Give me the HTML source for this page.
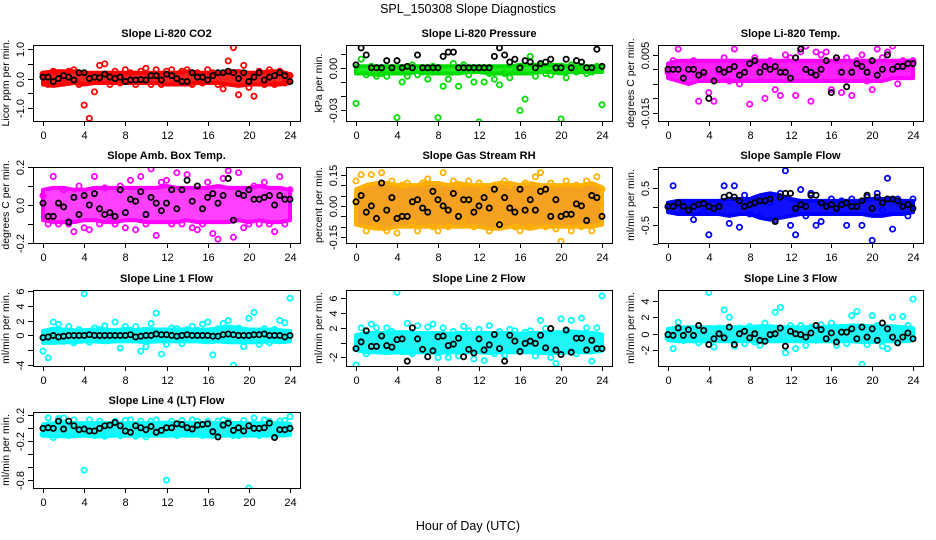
<!DOCTYPE html>
<html><head><meta charset="utf-8">
<style>
html,body{margin:0;padding:0;background:#fff;}
svg{display:block;font-family:"Liberation Sans",Arial,sans-serif;}
</style></head>
<body>
<svg id="chart" width="936" height="540" viewBox="0 0 936 540" xmlns="http://www.w3.org/2000/svg">
<text x="468" y="13" text-anchor="middle" font-size="12.5">SPL_150308  Slope Diagnostics</text>
<text x="468" y="530" text-anchor="middle" font-size="12.5">Hour of Day (UTC)</text>
</svg>
<script>
const hourTicks = [0,4,8,12,16,20,24];
const titles = ["Slope Li-820 CO2","Slope Li-820 Pressure","Slope Li-820 Temp.","Slope Amb. Box Temp.","Slope Gas Stream RH","Slope Sample Flow","Slope Line 1 Flow","Slope Line 2 Flow","Slope Line 3 Flow","Slope Line 4 (LT) Flow"];
const yLabels = ["Licor ppm per min.","kPa per min.","degrees C per min.","degrees C per min.","percent per min.","ml/min per min.","ml/min per min.","ml/min per min.","ml/min per min.","ml/min per min."];
const yRanges = [[-1.44,1.14],[-0.0374,0.016],[-0.0178,0.0084],[-0.2,0.2],[-0.178,0.187],[-0.97,1.05],[-4.1,6.1],[-3.15,7.1],[-3.9,5.3],[-0.92,0.24]];
const yTicks = [[-1,-0.5,0,0.5,1],[-0.03,-0.02,-0.01,0,0.01],[-0.015,-0.01,-0.005,0,0.005],[-0.2,-0.1,0,0.1,0.2],[-0.15,-0.1,-0.05,0,0.05,0.1,0.15],[-1,-0.5,0,0.5,1],[-4,-2,0,2,4,6],[-2,0,2,4,6],[-2,0,2,4],[-0.8,-0.6,-0.4,-0.2,0,0.2]];
const yTickLabels = [["-1.0","","0.0","","1.0"],["-0.03","","","0.00",""],["-0.015","","","","0.005"],["-0.2","","0.0","","0.2"],["-0.15","","","0.00","","","0.15"],["","-0.5","","0.5",""],["-4","","0","2","4","6"],["-2","","2","4","6"],["-2","0","2","4"],["-0.8","","","-0.2","","0.2"]];
const colors = ["#ff0000","#00dd00","#ff00ff","#ff00ff","#ffb000","#0000ff","#00ffff","#00ffff","#00ffff","#00ffff"];
const bandColors = ["#ff2020","#22ee22","#ff20ff","#ff40ff","#f4a020","#1010ff","#20f4f4","#20f4f4","#20f4f4","#20f4f4"];

const co2Pts=[0.15,-0.2,0.25,0.2,-0.15,0.25,0.3,-0.2,-0.9,-1.35,-0.45,0.45,0.5,-0.2,0.25,-0.15,0.3,0.2,-0.2,0.25,0.35,-0.2,0.3,-0.2,0.25,0.3,-0.15,0.25,0.3,-0.2,0.2,-0.15,0.3,0.2,-0.2,-0.35,0.6,1.05,-0.55,0.45,-0.3,-0.6,0.25,-0.2,0.3,-0.2,0.25,-0.15,0.1];
const co2Lo=[-0.2,-0.25,-0.2,-0.15,-0.2,-0.15,-0.15,-0.15,-0.15,-0.15,-0.15,-0.15,-0.2,-0.2,-0.2,-0.15,-0.15,-0.15,-0.2,-0.25,-0.2,-0.2,-0.2,-0.2,-0.15];
const co2Hi=[0.2,0.25,0.25,0.25,0.2,0.2,0.2,0.2,0.2,0.2,0.2,0.2,0.2,0.2,0.25,0.2,0.2,0.2,0.25,0.25,0.2,0.2,0.25,0.25,0.15];
const co2Blk=[0.05,0.05,-0.1,0,0.1,0.05,-0.05,0.2,0.2,0,0.05,0.03,0.15,0.05,0,0.05,-0.1,-0.05,-0.05,-0.03,-0.05,0.1,0.1,-0.05,0.15,0.1,0,-0.1,-0.1,0.2,0.05,0.05,-0.05,0.1,0.2,0.2,0.25,0.2,0.0,0.2,-0.1,0.05,0.2,-0.05,0.05,0.1,0.2,0.1,-0.1];

const presPts=[-0.025,0.006,-0.005,0.001,-0.006,-0.004,-0.006,-0.003,-0.035,-0.01,-0.006,0.002,-0.005,-0.003,-0.008,0.001,-0.035,-0.013,-0.008,0.003,-0.013,0.002,-0.005,-0.01,-0.038,-0.01,-0.004,-0.008,-0.012,-0.004,-0.007,-0.003,-0.03,-0.022,0.008,-0.006,0.002,-0.004,-0.005,0.001,-0.036,-0.007,0.002,-0.003,0.001,-0.004,-0.003,0.001,-0.026];
const presLo=[-0.004,-0.004,-0.005,-0.004,-0.004,-0.004,-0.003,-0.004,-0.004,-0.004,-0.004,-0.003,-0.003,-0.004,-0.004,-0.004,-0.004,-0.004,-0.003,-0.003,-0.004,-0.003,-0.003,-0.003,-0.003];
const presHi=[0.001,0.001,0.001,0.001,0.001,0.001,0.001,0.001,0.001,0.001,0.001,0.001,0.001,0.001,0.001,0.001,0.002,0.002,0.002,0.002,0.002,0.001,0.001,0.001,0.001];
const presBlk=[0.002,0.014,0.009,0.0,0.0,0.0,0.005,0.0,0.005,0.0,0.001,0.0,0.009,0.0,0.0,0.0,0.0,0.008,0.011,0.011,0.0,0.0,0.0,0.0,0.0,0.0,0.0,0.008,0.014,0.009,0.004,0.006,0.0,0.005,0.004,0.0,0.003,0.004,0.006,0.0,0.0,0.006,0.0,0.005,0.004,0.0,0.0,0.013,0.001];

const ltPts=[-0.001,0.003,0.007,0.010,-0.020,0.003,-0.011,-0.002,-0.008,-0.011,-0.001,0.004,-0.004,0.007,-0.005,0.002,-0.012,0.004,0.002,-0.010,0.003,-0.007,-0.009,0.005,0.004,-0.009,0.006,0.008,-0.011,0.006,0.005,0.006,-0.007,0.003,-0.008,0.004,-0.009,0.003,0.005,-0.004,-0.007,0.007,0.004,0.006,0.008,-0.005,0.003,0.012,0.003];
const ltLo=[-0.003,-0.004,-0.005,-0.004,-0.004,-0.004,-0.004,-0.004,-0.004,-0.004,-0.004,-0.004,-0.004,-0.004,-0.004,-0.004,-0.004,-0.004,-0.004,-0.004,-0.004,-0.004,-0.003,-0.003,-0.003];
const ltHi=[0.002,0.003,0.003,0.003,0.003,0.003,0.003,0.003,0.003,0.003,0.003,0.003,0.003,0.003,0.003,0.003,0.003,0.003,0.003,0.003,0.003,0.003,0.003,0.003,0.003];
const ltBlk=[0.000,0.000,0.000,-0.003,0.000,0.000,-0.002,-0.001,-0.010,-0.004,0.000,-0.001,0.000,0.001,-0.002,-0.001,0.002,0.003,-0.001,0.001,0.000,0.001,-0.001,-0.001,-0.003,0.004,0.007,0.000,-0.001,-0.002,0.000,0.003,-0.008,0.004,-0.001,-0.006,-0.001,0.002,0.001,-0.001,0.003,-0.002,0.000,0.005,0.000,0.001,0.001,0.002,0.002];

const ambPts=[0.05,-0.1,0.15,-0.1,0.08,-0.1,-0.14,0.1,-0.12,-0.13,0.15,-0.1,0.09,-0.08,-0.1,0.1,-0.12,0.13,-0.13,0.15,-0.1,0.19,-0.16,0.12,0.13,-0.1,0.17,-0.1,0.16,-0.12,-0.13,-0.1,0.12,-0.15,-0.18,0.14,0.18,-0.17,0.17,-0.12,-0.1,0.1,-0.1,0.12,-0.1,-0.14,0.15,-0.1,0.08];
const ambLo=[-0.08,-0.09,-0.09,-0.09,-0.08,-0.08,-0.09,-0.09,-0.08,-0.08,-0.09,-0.09,-0.09,-0.09,-0.08,-0.09,-0.09,-0.09,-0.09,-0.08,-0.09,-0.08,-0.09,-0.09,-0.08];
const ambHi=[0.08,0.09,0.09,0.08,0.08,0.09,0.09,0.09,0.09,0.09,0.09,0.09,0.1,0.09,0.09,0.09,0.09,0.1,0.09,0.09,0.09,0.1,0.09,0.09,0.08];
const ambBlk=[0.01,-0.06,-0.06,0.01,-0.01,-0.09,0.04,-0.05,0.05,0.0,0.06,-0.02,-0.05,-0.04,-0.06,0.08,-0.04,0.03,0.02,0.07,-0.05,0.04,0.01,-0.03,0.01,0.08,-0.02,0.08,0.13,0.02,0.1,-0.02,0.04,0.06,0.01,0.05,0.14,-0.08,0.06,0.05,0.08,0.03,0.03,0.04,0.05,0.0,0.05,0.03,0.03];

const rhPts=[0.12,0.15,-0.12,0.15,-0.08,0.16,-0.12,0.12,-0.13,0.1,0.11,-0.08,-0.12,0.11,0.13,-0.1,-0.12,0.16,-0.1,0.12,0.1,-0.07,0.12,-0.1,0.11,0.08,-0.12,0.1,-0.08,0.12,0.1,-0.1,-0.12,0.11,-0.1,0.14,0.16,-0.1,0.11,-0.11,-0.17,0.12,-0.12,0.1,-0.1,0.12,-0.12,0.14,0.08];
const rhLo=[-0.09,-0.1,-0.11,-0.11,-0.1,-0.1,-0.1,-0.1,-0.1,-0.1,-0.1,-0.1,-0.1,-0.11,-0.11,-0.1,-0.1,-0.11,-0.1,-0.1,-0.1,-0.1,-0.1,-0.1,-0.09];
const rhHi=[0.08,0.1,0.11,0.11,0.1,0.1,0.1,0.11,0.11,0.1,0.11,0.1,0.1,0.1,0.11,0.11,0.1,0.11,0.1,0.1,0.1,0.1,0.1,0.11,0.09];
const rhBlk=[0.02,0.05,-0.03,0.0,-0.06,0.11,-0.02,0.04,-0.06,-0.05,-0.05,0.02,0.03,-0.01,-0.03,0.07,0.03,0.0,-0.02,0.06,-0.05,0.03,0.03,-0.03,0.0,0.04,-0.01,0.08,-0.09,0.04,-0.01,-0.03,0.08,-0.02,0.03,-0.02,0.07,0.08,-0.05,0.03,-0.05,-0.04,-0.04,0.01,0.0,-0.07,0.05,0.04,-0.05];

const sfPts=[0.0,0.55,0.05,-0.1,0.1,-0.35,0.1,-0.15,-0.75,-0.1,0.1,0.55,-0.45,0.55,-0.55,0.3,-0.2,0.1,-0.25,0.15,0.1,-0.35,0.35,0.95,-0.5,-0.75,0.45,-0.25,0.35,-0.5,-0.4,0.1,0.2,-0.15,0.15,-0.5,0.2,0.1,-0.5,0.25,-0.9,0.35,-0.1,0.75,-0.6,0.2,0.1,-0.25,0.2];
const sfLo=[-0.15,-0.2,-0.2,-0.2,-0.2,-0.2,-0.25,-0.2,-0.2,-0.3,-0.35,-0.3,-0.25,-0.2,-0.2,-0.2,-0.2,-0.2,-0.2,-0.2,-0.25,-0.25,-0.2,-0.2,-0.15];
const sfHi=[0.1,0.15,0.15,0.15,0.15,0.15,0.2,0.2,0.2,0.3,0.35,0.3,0.2,0.15,0.15,0.15,0.15,0.15,0.15,0.15,0.2,0.2,0.2,0.15,0.15];
const sfBlk=[0.0,0.0,0.1,0.0,-0.1,0.0,0.05,0.08,0.0,-0.05,0.0,0.25,0.3,0.25,0.15,0.0,0.05,0.1,0.15,0.15,0.2,-0.4,0.25,0.35,0.35,-0.05,0.05,0.0,0.3,0.3,0.1,0.0,0.05,-0.05,0.05,0.1,0.0,0.0,0.15,0.3,-0.05,0.25,0.1,0.2,0.2,0.15,0.0,0.05,-0.05];

const l1Pts=[-2.1,-3.0,1.8,1.5,-0.8,1.2,-1.0,0.8,5.6,-0.9,1.0,0.8,1.3,-0.6,1.8,-1.7,1.2,0.7,1.2,-2.1,-1.5,1.6,3.0,-2.5,-1.2,1.0,0.9,-1.1,0.8,1.2,0.7,1.5,1.8,-2.6,0.9,1.6,2.0,-4.0,1.0,-1.5,2.3,3.1,-1.2,0.9,-1.0,0.8,2.0,1.7,5.0];
const l1Lo=[-1.0,-1.0,-0.9,-0.9,-0.8,-0.8,-0.9,-0.8,-0.8,-0.8,-0.9,-0.8,-0.8,-0.8,-0.8,-0.8,-0.9,-0.8,-0.9,-0.9,-0.9,-0.9,-0.8,-0.9,-0.8];
const l1Hi=[0.6,0.9,0.8,0.7,0.7,0.8,0.8,0.7,0.9,0.7,0.9,0.8,0.8,0.8,0.8,0.7,0.8,0.9,1.2,1.0,0.8,0.8,0.8,0.7,0.6];
const l1Blk=[-0.3,-0.2,0.0,-0.2,-0.1,0.0,0.0,0.0,0.0,0.1,0.0,0.0,0.0,0.0,0.0,0.0,0.0,0.1,-0.2,-0.1,0.0,0.0,0.2,0.1,0.1,0.0,-0.1,0.0,0.1,0.0,0.0,0.0,0.0,-0.1,-0.1,0.1,0.2,0.1,0.0,0.0,0.0,0.1,0.1,0.2,0.0,0.0,0.0,-0.2,0.0];

const l2Pts=[-3.0,2.0,-1.5,2.5,2.0,-1.0,2.0,1.5,6.8,-1.2,2.6,-1.5,2.3,-1.0,2.1,2.5,-2.0,2.0,-2.0,1.5,-1.8,2.2,1.6,-2.2,1.8,-2.4,2.3,-1.5,1.5,-1.7,1.8,1.6,-1.0,1.4,1.6,-1.8,3.0,1.9,-2.0,-2.8,3.2,1.5,3.0,-1.5,3.3,2.0,-2.5,2.0,6.3];
const l2Lo=[-1.0,-1.3,-1.3,-1.4,-1.3,-1.4,-1.3,-1.3,-1.4,-1.3,-1.3,-1.3,-1.3,-1.4,-1.3,-1.3,-1.3,-1.3,-1.4,-1.4,-1.4,-1.3,-1.3,-1.3,-1.1];
const l2Hi=[1.0,1.3,1.3,1.3,1.4,1.4,1.3,1.3,1.3,1.2,1.3,1.3,1.3,1.3,1.3,1.3,1.2,1.3,1.3,1.4,1.4,1.5,1.4,1.3,1.1];
const l2Blk=[-0.8,0.1,1.6,-0.5,-0.5,0.9,-0.4,-0.6,0.4,0.5,-2.5,2.0,0.5,-0.9,-1.9,-1.1,0.8,0.9,-0.4,-0.2,0.6,-1.9,-0.9,-1.4,0.5,-1.0,-0.3,1.1,-0.8,-2.5,1.0,0.2,-1.2,-0.1,0.2,-0.1,1.0,-0.7,1.9,-1.0,-1.6,1.7,-1.3,0.6,0.6,-1.0,0.3,-0.8,-0.8];

const l3Pts=[-0.5,-1.8,1.4,-0.8,0.5,-0.6,-1.1,0.6,5.0,-1.6,0.7,2.9,2.0,-1.5,0.7,-1.2,0.9,-1.0,-1.4,1.3,-0.7,2.6,3.2,-2.3,1.0,-1.8,1.0,-1.4,0.8,-0.8,1.1,0.6,1.3,-1.4,0.8,-1.2,2.2,2.7,-3.7,-1.3,2.2,1.0,-1.5,-1.8,2.0,-1.0,2.1,1.0,4.2];
const l3Lo=[-0.8,-0.9,-0.9,-0.9,-0.9,-0.9,-0.9,-0.9,-0.9,-0.9,-0.9,-0.9,-0.9,-0.9,-0.9,-0.9,-0.9,-0.9,-0.9,-1.0,-1.0,-0.9,-0.9,-0.9,-0.8];
const l3Hi=[0.6,0.8,0.8,0.8,0.8,0.8,0.8,0.8,0.8,0.9,0.9,0.8,0.8,0.8,0.8,0.8,0.9,0.9,1.0,1.0,0.9,0.9,0.9,0.8,0.7];
const l3Blk=[-0.1,-0.2,0.7,-0.2,0.5,-0.2,1.0,0.4,-1.3,-0.6,0.0,-0.5,0.8,-1.3,0.0,0.3,-0.5,0.0,-0.8,-0.9,-0.1,0.0,0.7,-1.5,0.3,0.0,-0.1,-0.4,0.1,1.0,0.5,-0.6,0.1,-1.0,0.2,0.2,0.6,-0.6,0.8,-0.4,0.6,-0.8,1.3,0.6,-0.4,-1.1,-0.4,0.1,-0.6];

const l4Pts=[-0.1,0.15,-0.15,0.14,0.15,-0.12,0.12,0.0,-0.65,0.12,-0.12,0.1,-0.13,0.0,0.1,-0.12,0.11,0.12,-0.13,0.1,-0.14,0.1,0.12,-0.1,-0.8,0.1,-0.12,0.11,-0.1,0.12,0.1,-0.12,0.1,-0.12,0.1,0.12,0.1,-0.12,-0.12,0.11,-0.92,0.15,-0.12,0.12,0.1,-0.12,0.1,0.11,0.17];
const l4Lo=[-0.12,-0.13,-0.13,-0.13,-0.12,-0.13,-0.13,-0.12,-0.12,-0.12,-0.12,-0.12,-0.12,-0.12,-0.12,-0.12,-0.13,-0.12,-0.12,-0.12,-0.12,-0.12,-0.12,-0.12,-0.11];
const l4Hi=[0.05,0.07,0.07,0.07,0.07,0.07,0.07,0.07,0.07,0.07,0.07,0.07,0.08,0.07,0.07,0.07,0.07,0.07,0.07,0.07,0.07,0.07,0.07,0.07,0.06];
const l4Blk=[-0.01,0.0,-0.01,0.1,-0.02,0.1,0.03,-0.03,-0.02,-0.05,-0.05,-0.01,0.03,0.04,0.08,0.03,-0.05,-0.07,0.03,0.0,-0.03,0.02,-0.07,-0.04,0.0,0.0,0.06,0.05,0.0,-0.02,0.04,0.05,0.06,-0.06,-0.14,0.04,0.07,-0.04,0.0,-0.05,0.03,-0.01,-0.01,0.0,0.07,-0.15,-0.03,-0.03,-0.01];

const scatterSeries=[co2Pts,presPts,ltPts,ambPts,rhPts,sfPts,l1Pts,l2Pts,l3Pts,l4Pts];
const bandLowSeries=[co2Lo,presLo,ltLo,ambLo,rhLo,sfLo,l1Lo,l2Lo,l3Lo,l4Lo];
const bandHighSeries=[co2Hi,presHi,ltHi,ambHi,rhHi,sfHi,l1Hi,l2Hi,l3Hi,l4Hi];
const blackSeries=[co2Blk,presBlk,ltBlk,ambBlk,rhBlk,sfBlk,l1Blk,l2Blk,l3Blk,l4Blk];

const NS="http://www.w3.org/2000/svg";
const svg=document.getElementById('chart');
const colLeft=[33,346,658], colW=[267,266,265], rowTop=[45,167,290,412], plotH=76;
function mk(tag,attrs,parent){const e=document.createElementNS(NS,tag);for(const k in attrs)e.setAttribute(k,attrs[k]);(parent||svg).appendChild(e);return e;}
function slug(s){return s.toLowerCase().replace(/[^a-z0-9]+/g,'-').replace(/^-|-$/g,'');}

titles.forEach((title,p)=>{
  const L=colLeft[p%3], W=colW[p%3], T=rowTop[Math.floor(p/3)], B=T+plotH;
  const [ymin,ymax]=yRanges[p];
  const xs=h=>L+10+h/24*(W-20);
  const ys=v=>B-(v-ymin)/(ymax-ymin)*plotH;
  const g=mk('g',{});
  
  
  const clipId='clip'+p;
  const cp=mk('clipPath',{id:clipId},g); mk('rect',{x:L,y:T,width:W,height:plotH},cp);
  const plot=mk('g',{'clip-path':'url(#'+clipId+')'},g);
  // band
  const lo=bandLowSeries[p], hi=bandHighSeries[p];
  let d='';
  hi.forEach((v,i)=>{d+=(i?'L':'M')+xs(i*24/(hi.length-1)).toFixed(1)+','+ys(v).toFixed(1);});
  for(let i=lo.length-1;i>=0;i--){d+='L'+xs(i*24/(lo.length-1)).toFixed(1)+','+ys(lo[i]).toFixed(1);}
  const band=mk('path',{d:d+'Z',fill:bandColors[p],stroke:colors[p],'stroke-width':4,'stroke-linejoin':'round'},plot);
  
  
  const sc=scatterSeries[p];
  sc.forEach((v,i)=>{
    const c=mk('circle',{cx:xs(i*24/(sc.length-1)),cy:ys(v),r:2.6,fill:'none',stroke:colors[p],'stroke-width':1.8},plot);
    
    
  });
  const bk=blackSeries[p];
  bk.forEach((v,i)=>{
    const c=mk('circle',{cx:xs(i*24/(bk.length-1)),cy:ys(v),r:2.6,fill:'none',stroke:'#000','stroke-width':1.8},plot);
    
    
  });
  const box=mk('rect',{x:L+0.5,y:T+0.5,width:W,height:plotH,fill:'none',stroke:'#000','stroke-width':1},g);
  
  
  const t=mk('text',{x:L+W/2,y:T-8,'text-anchor':'middle','font-size':11,'font-weight':'bold'},g);
  t.textContent=title;
  
  
  hourTicks.forEach(h=>{
    const x=Math.round(xs(h))+0.5;
    mk('line',{x1:x,x2:x,y1:B,y2:B+5,stroke:'#000'},g);
    const tl=mk('text',{x:x,y:B+18,'text-anchor':'middle','font-size':11},g);
    tl.textContent=h;
    
    
  });
  yTicks[p].forEach((v,i)=>{
    const y=Math.round(ys(v))+0.5;
    mk('line',{x1:L-5,x2:L,y1:y,y2:y,stroke:'#000'},g);
    const lab=yTickLabels[p][i];
    if(lab){
      const tl=mk('text',{x:L-9,y:y,'text-anchor':'middle','font-size':11,transform:'rotate(-90 '+(L-9)+' '+y+')'},g);
      tl.textContent=lab;
      
      
    }
  });
  const yl=mk('text',{x:L-24,y:T+plotH/2,'text-anchor':'middle','font-size':10.5,transform:'rotate(-90 '+(L-24)+' '+(T+plotH/2)+')'},g);
  yl.textContent=yLabels[p];
  
  
});
</script>
</body></html>
